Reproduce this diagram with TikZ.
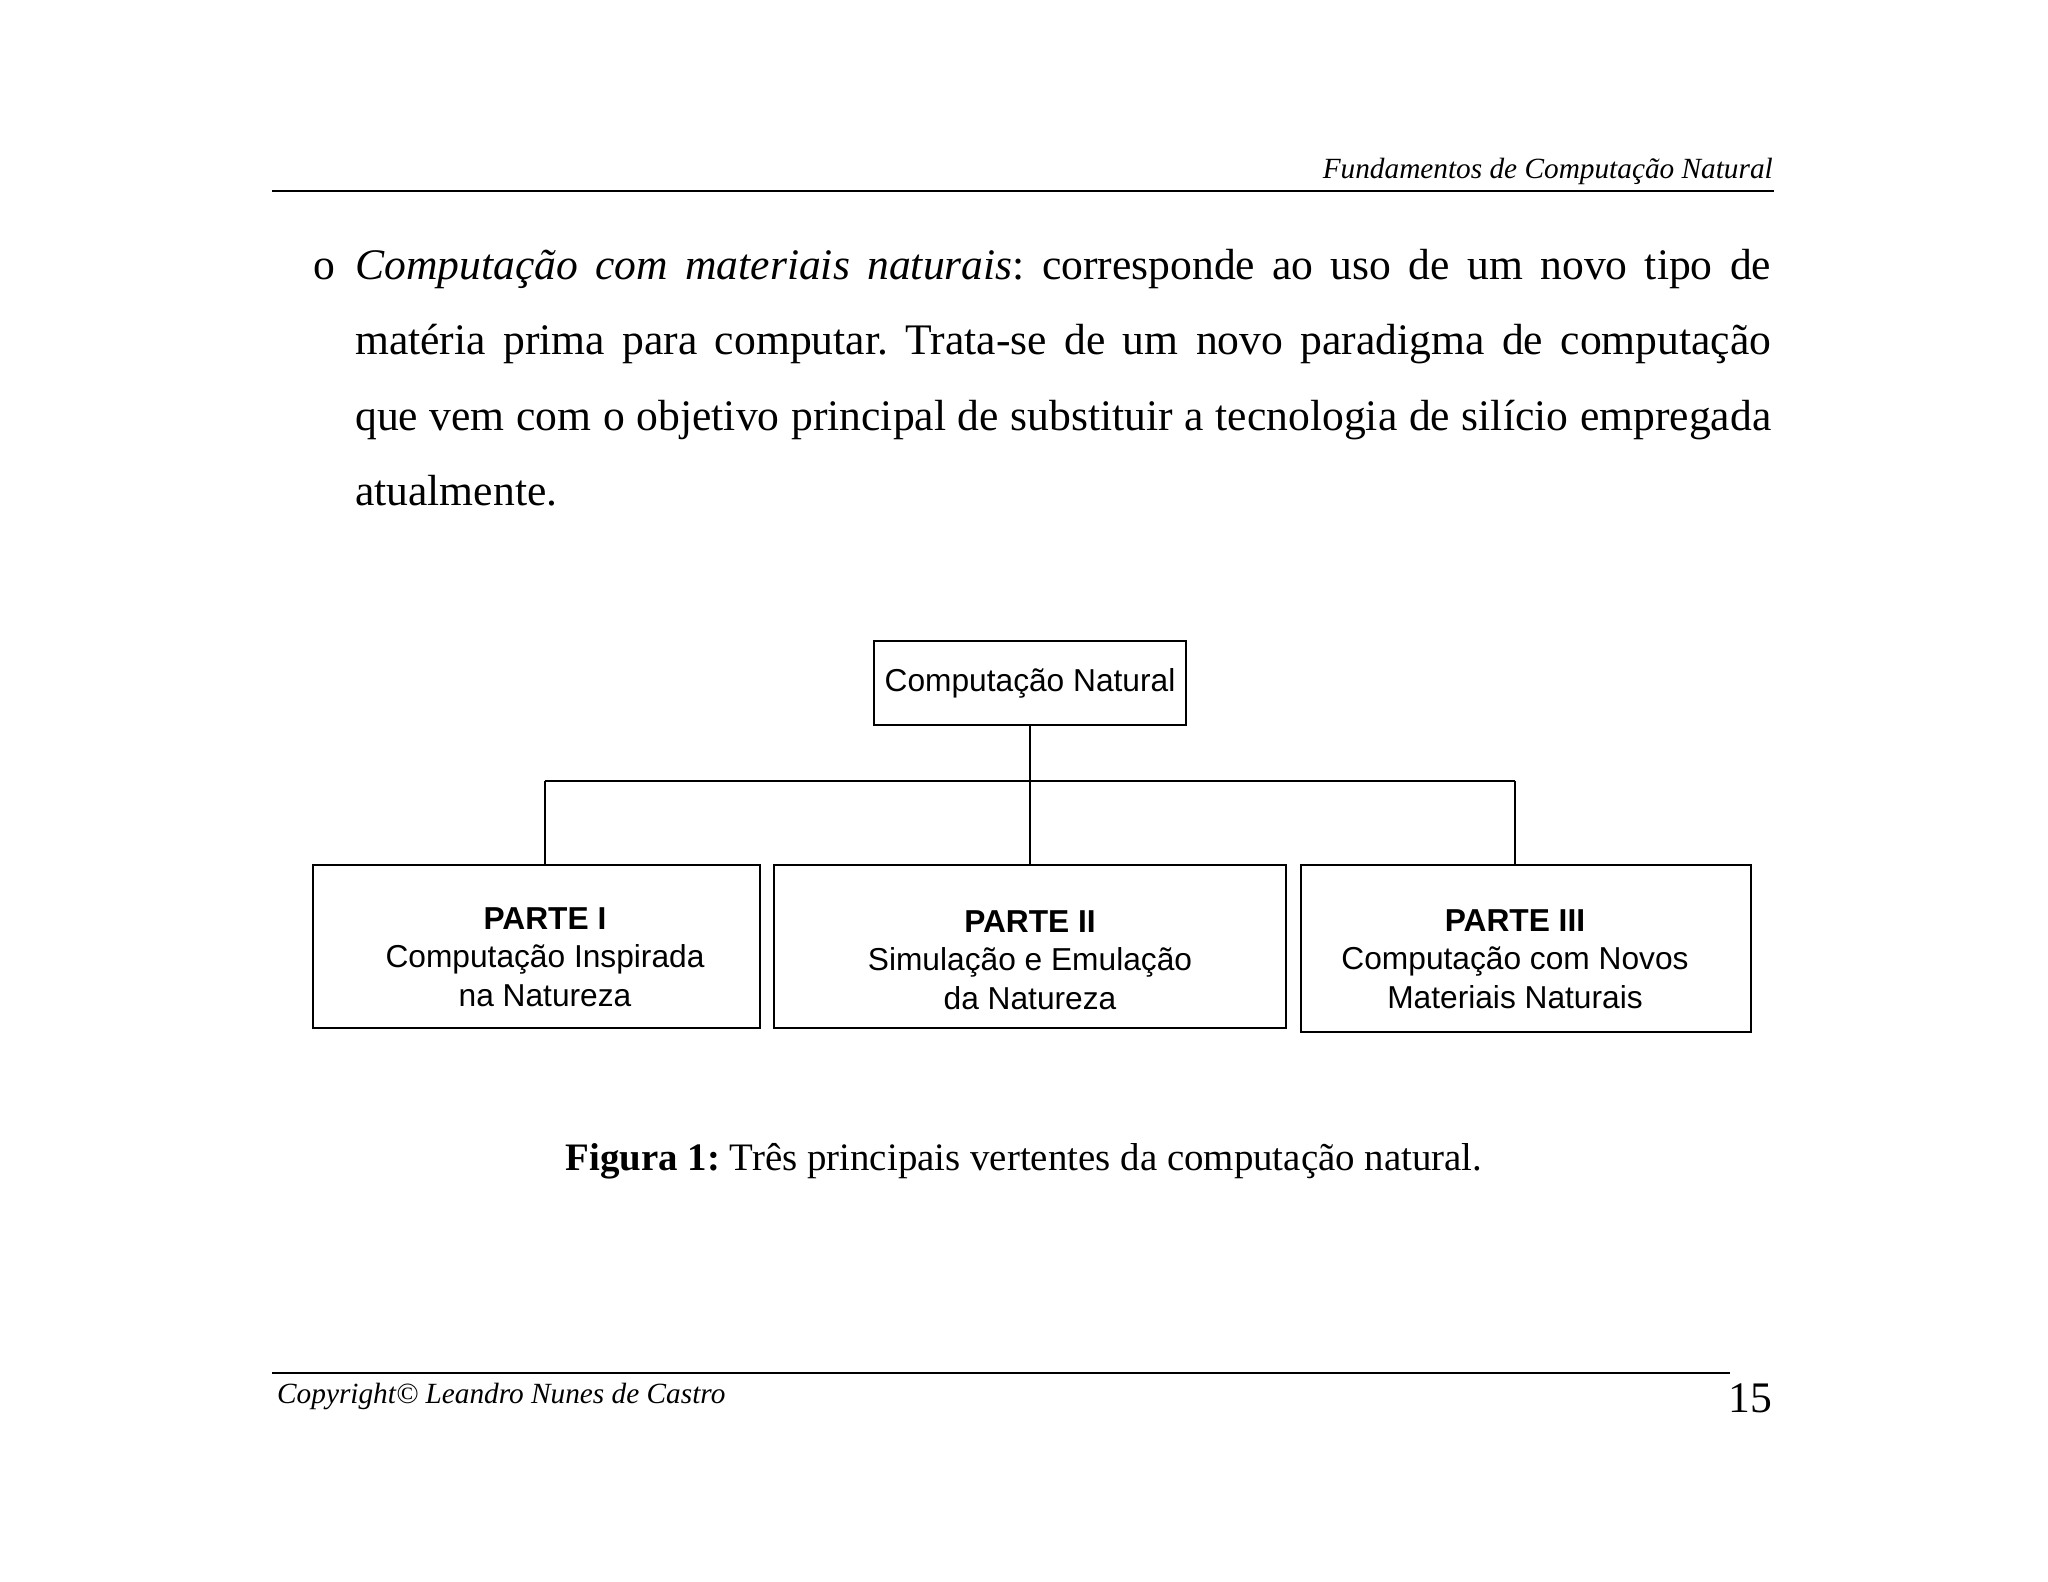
\documentclass[tikz,border=0pt]{standalone}
\usepackage{fontspec}
\setmainfont{Liberation Serif}
\newfontfamily\arialfont{Liberation Sans}
\frenchspacing
\usetikzlibrary{positioning}
\tikzstyle{caixa}=[draw, line width=2pt, inner sep=0pt]
\tikzstyle{rotulo}=[align=center, inner sep=0pt,
    font=\arialfont\fontsize{31.7}{38.5}\selectfont]
\tikzstyle{ramo}=[line width=1.5pt]
\tikzstyle{regua}=[line width=2pt]
\tikzstyle{corpo}=[inner sep=0pt, font=\fontsize{43.6}{75.5}\selectfont]
\tikzstyle{rodape}=[inner sep=0pt, font=\fontsize{29.3}{34}\selectfont\itshape]

\begin{document}
\begin{tikzpicture}[x=1pt,y=-1pt]
          \useasboundingbox[fill=white] (0,0) rectangle (2048,1582);
          % cabecalho
          \node[rodape, anchor=base east] (cab) at (1773,178){Fundamentos de Computação Natural};
          \draw[regua] (272,191) -- (1774,191);
          % texto
          \node[corpo, anchor=base west] (bul) at (313,279){o};
          \node[corpo, anchor=base west, text width=1416pt, align=justify] (par) at (355,279){\textit{Computação com materiais naturais}: corresponde ao uso de um novo tipo de\linebreak
            matéria prima para computar. Trata-se de um novo paradigma de computação\linebreak
            que vem com o objetivo principal de substituir a tecnologia de silício empregada\linebreak
            atualmente.};
          % diagrama
          \node[caixa, rotulo, minimum width=312pt, minimum height=84pt] (cn) at (1030,683){Computação Natural};
          \node[caixa, minimum width=447pt, minimum height=163pt] (p1) at (536,946){};
          \node[caixa, minimum width=512pt, minimum height=163pt] (p2) at (1030,946){};
          \node[caixa, minimum width=450pt, minimum height=167pt] (p3) at (1526,948){};
          \coordinate (j1) at (545,781);
          \coordinate (j3) at (1515,781);
          \node[rotulo] (t1) at (545,957){\textbf{PARTE I}\\Computação Inspirada\\na Natureza};
          \node[rotulo] (t2) at (1030,960){\textbf{PARTE II}\\Simulação e Emulação\\da Natureza};
          \node[rotulo] (t3) at (1515,959){\textbf{PARTE III}\\Computação com Novos\\Materiais Naturais};
          \draw[ramo](cn.south) -- (p2.north);
          \draw[ramo](j1) -- (j3);
          \draw[ramo](j1) -- (j1 |- p1.north);
          \draw[ramo](j3) -- (j3 |- p3.north);
          % legenda
          \node[inner sep=0pt, font=\fontsize{38.9}{46}\selectfont, anchor=base] (leg) at (1024,1170){\textbf{Figura 1:} Três principais vertentes da computação natural.};
          % rodape
          \draw[regua] (272,1373) -- (1730,1373);
          \node[rodape, anchor=base west] (copy) at (277,1403){Copyright© Leandro Nunes de Castro};
          \node[corpo, anchor=base east] (pag) at (1772,1412){15};
        \end{tikzpicture}
\end{document}
